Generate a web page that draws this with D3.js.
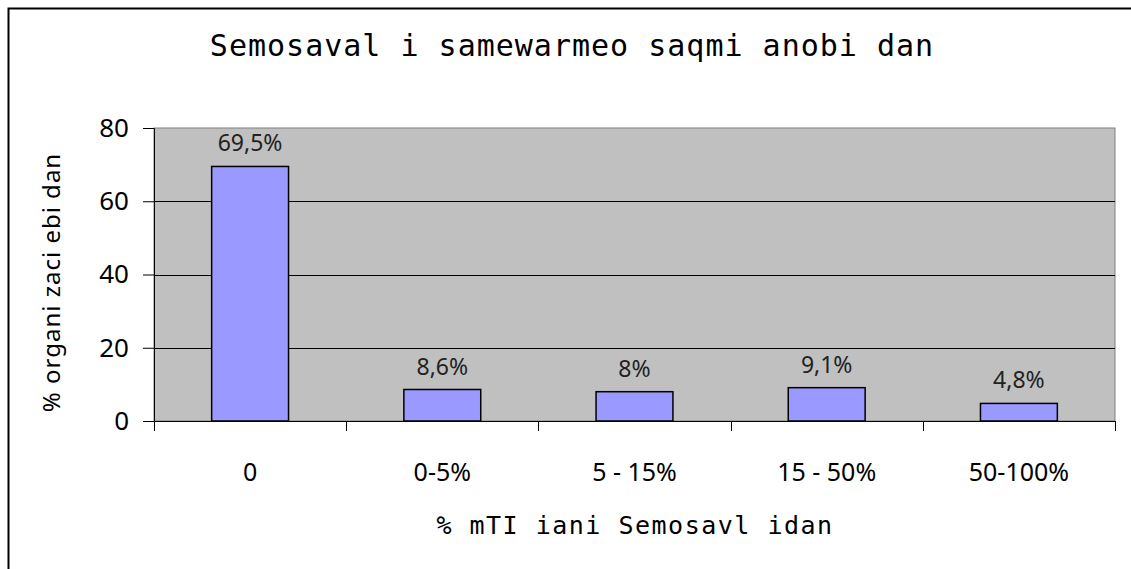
<!DOCTYPE html>
<html>
<head>
<meta charset="utf-8">
<script src="https://cdn.jsdelivr.net/npm/d3@7"></script>
<style>
  body { margin: 0; background: #fff; }
  svg { display: block; }
</style>
</head>
<body>
<svg id="chart" width="1131" height="569"></svg>
<script>
// data
const categories = ["0", "0-5%", "5 - 15%", "15 - 50%", "50-100%"];
const values = [69.5, 8.6, 8, 9.1, 4.8];
const valueLabels = ["69,5%", "8,6%", "8%", "9,1%", "4,8%"];
const yTicks = [0, 20, 40, 60, 80];
const title = "Semosaval i samewarmeo saqmi anobi dan";
const xTitle = "% mTI iani Semosavl idan";
const yTitle = "% organi zaci ebi dan";

const width = 1131;
const height = 569;
const margin = { top: 128, right: 16, bottom: 148, left: 154 };
const innerWidth = width - margin.left - margin.right;
const innerHeight = height - margin.top - margin.bottom;

const svg = d3.select("#chart");

// outer chart frame (only left/top edges are visible in the original)
svg.append("path")
  .attr("d", `M8.5,${height} V8.5 H${width}`)
  .attr("fill", "none").attr("stroke", "#000").attr("stroke-width", 2);

const xScale = d3.scaleBand().domain(categories).range([0, innerWidth]).paddingInner(0.6).paddingOuter(0.3);
const yScale = d3.scaleLinear().domain([0, 80]).range([innerHeight, 0]);

const g = svg.append("g").attr("transform", `translate(${margin.left},${margin.top})`);

// plot area
g.append("rect")
  .attr("width", innerWidth).attr("height", innerHeight)
  .attr("fill", "#c0c0c0").attr("stroke", "#808080");

// gridlines
g.selectAll("line.grid")
  .data(yTicks.filter((t) => t > 0 && t < 80))
  .enter()
  .append("line")
  .attr("class", "grid")
  .attr("x1", 0).attr("x2", innerWidth)
  .attr("y1", (d) => Math.round(yScale(d)) + 0.5)
  .attr("y2", (d) => Math.round(yScale(d)) + 0.5)
  .attr("stroke", "#000");

// bars
g.selectAll("rect.bar")
  .data(values)
  .enter()
  .append("rect")
  .attr("class", "bar")
  .attr("x", (d, i) => xScale(categories[i]))
  .attr("y", (d) => yScale(d))
  .attr("width", xScale.bandwidth())
  .attr("height", (d) => yScale(0) - yScale(d))
  .attr("fill", "#9999ff")
  .attr("stroke", "#000")
  .attr("stroke-width", 1.5);

// value labels
g.selectAll("text.val")
  .data(values)
  .enter()
  .append("text")
  .attr("class", "val")
  .attr("x", (d, i) => xScale(categories[i]) + xScale.bandwidth() / 2)
  .attr("y", (d) => yScale(d) - 15)
  .attr("text-anchor", "middle")
  .attr("font-family", "Noto Sans, sans-serif")
  .attr("font-size", 23)
  .attr("fill", "#222")
  .text((d, i) => valueLabels[i]);

// y axis
const yAxis = g.append("g")
  .call(d3.axisLeft(yScale).tickValues(yTicks).tickSize(11).tickPadding(14));
yAxis.select(".domain").attr("stroke", "#000");
yAxis.selectAll("text")
  .attr("font-family", "Noto Sans, sans-serif")
  .attr("font-size", 26)
  .attr("fill", "#000");

// x axis: ticks at band boundaries
const step = innerWidth / categories.length;
const xAxis = g.append("g").attr("transform", `translate(0,${innerHeight})`);
xAxis.append("line")
  .attr("x1", 0).attr("x2", innerWidth)
  .attr("y1", 0.5).attr("y2", 0.5)
  .attr("stroke", "#000");
xAxis.selectAll("line.tick")
  .data(d3.range(categories.length + 1))
  .enter()
  .append("line")
  .attr("class", "tick")
  .attr("x1", (d) => Math.round(d * step) + 0.5)
  .attr("x2", (d) => Math.round(d * step) + 0.5)
  .attr("y1", 0).attr("y2", 10)
  .attr("stroke", "#000");
xAxis.selectAll("text")
  .data(categories)
  .enter()
  .append("text")
  .attr("x", (d) => xScale(d) + xScale.bandwidth() / 2)
  .attr("y", 60)
  .attr("text-anchor", "middle")
  .attr("font-family", "Noto Sans, sans-serif")
  .attr("font-size", 25)
  .attr("fill", "#000")
  .text((d) => d);

// titles
svg.append("text")
  .attr("x", 572).attr("y", 56)
  .attr("text-anchor", "middle")
  .attr("font-family", "DejaVu Sans Mono, monospace")
  .attr("font-size", 30)
  .attr("letter-spacing", 1)
  .text(title);

svg.append("text")
  .attr("x", 635).attr("y", 534)
  .attr("text-anchor", "middle")
  .attr("font-family", "DejaVu Sans Mono, monospace")
  .attr("font-size", 25)
  .attr("letter-spacing", 1.5)
  .text(xTitle);

svg.append("text")
  .attr("transform", `translate(60,${margin.top + innerHeight / 2 + 8}) rotate(-90)`)
  .attr("text-anchor", "middle")
  .attr("font-family", "Noto Sans, sans-serif")
  .attr("font-size", 24)
  .attr("letter-spacing", 1)
  .text(yTitle);
</script>
</body>
</html>
